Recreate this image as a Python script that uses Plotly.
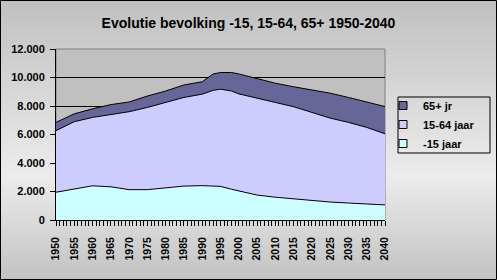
import plotly.graph_objects as go

# ---- data (thousands of inhabitants) ----
years = [1950, 1955, 1960, 1965, 1970, 1975, 1980, 1985, 1990, 1993, 1995,
         1998, 2000, 2005, 2010, 2015, 2020, 2025, 2030, 2035, 2040]
young = [1950, 2200, 2400, 2330, 2130, 2130, 2250, 2380, 2410, 2410, 2360,
         2160, 2050, 1750, 1600, 1480, 1370, 1260, 1190, 1120, 1060]
working = [4320, 4700, 4800, 5070, 5470, 5770, 6000, 6220, 6420, 6690, 6820,
           6890, 6800, 6780, 6650, 6470, 6180, 5890, 5660, 5380, 4990]
elderly = [580, 550, 600, 700, 680, 800, 800, 880, 870, 1150, 1170,
           1300, 1400, 1370, 1350, 1400, 1600, 1750, 1750, 1800, 1910]
series_names = ["-15 jaar", "15-64 jaar", "65+ jr"]
series_colors = ["#CCFFFF", "#CCCCFF", "#666699"]
label_years = list(range(1950, 2041, 5))
y_ticks = list(range(0, 12001, 2000))

FONT = "Arial, 'Liberation Sans', sans-serif"
W, H = 497, 280
L, R, T, B = 56, 112, 49, 60
PW, PH = W - L - R, H - T - B


def px_x(px):
    return (px - L) / PW


def px_y(py):
    return (H - B - py) / PH


fig = go.Figure()
for vals, name, col in zip([young, working, elderly], series_names, series_colors):
    fig.add_trace(go.Scatter(
        x=years, y=vals, name=name, stackgroup="one", mode="lines",
        line=dict(color="black", width=1), fillcolor=col,
        showlegend=False, legendgroup=name, hoverinfo="x+y+name"))

# legend entries (small square markers like the original)
for name, col in reversed(list(zip(series_names, series_colors))):
    fig.add_trace(go.Scatter(
        x=[None], y=[None], name=name, mode="markers", legendgroup=name,
        marker=dict(symbol="square", size=8, color=col,
                    line=dict(color="black", width=1))))

# ---- background gradient (chart area) ----
shapes = []
step = 2
for py in range(0, H, step):
    mid = py + step / 2
    if mid <= 175:
        g = 192 + (236 - 192) * mid / 175
    else:
        g = 236 - (236 - 194) * (mid - 175) / (H - 175)
    g = int(round(g))
    shapes.append(dict(type="rect", xref="paper", yref="paper", layer="below",
                       x0=px_x(0), x1=px_x(W), y0=px_y(py + step), y1=px_y(py),
                       fillcolor=f"rgb({g},{g},{g})", line=dict(width=0)))
# plot area
shapes.append(dict(type="rect", xref="paper", yref="paper", layer="below",
                   x0=0, x1=1, y0=0, y1=1, fillcolor="#C0C0C0",
                   line=dict(color="#808080", width=1)))
# outer border
shapes.append(dict(type="rect", xref="paper", yref="paper",
                   x0=px_x(0.5), x1=px_x(W - 0.5), y0=px_y(H - 0.5), y1=px_y(0.5),
                   line=dict(color="black", width=1)))
# legend box
shapes.append(dict(type="rect", xref="paper", yref="paper",
                   x0=px_x(398), x1=px_x(490), y0=px_y(153), y1=px_y(97),
                   line=dict(color="black", width=1)))

fig.update_layout(
    width=W, height=H,
    margin=dict(l=L, r=R, t=T, b=B, pad=0),
    paper_bgcolor="#C8C8C8", plot_bgcolor="rgba(0,0,0,0)",
    separators=",.",
    font=dict(family=FONT, size=11, color="black"),
    title=dict(text="<b>Evolutie bevolking -15, 15-64, 65+ 1950-2040</b>",
               x=0.5, xref="container", xanchor="center",
               y=1 - 23.5 / H, yref="container", yanchor="middle",
               font=dict(family=FONT, size=14, color="black")),
    shapes=shapes,
    showlegend=True,
    legend=dict(x=px_x(383), y=px_y(91), xanchor="left", yanchor="top",
                bgcolor="rgba(0,0,0,0)", borderwidth=0,
                font=dict(family=FONT, size=11, color="black", weight="bold"),
                itemwidth=30, tracegroupgap=0),
    xaxis=dict(range=[1950, 2040], tickmode="array", tickvals=label_years,
               ticktext=[str(y) for y in label_years], tickangle=-90,
               ticks="outside", ticklen=5, tickcolor="black", tickwidth=1,
               minor=dict(dtick=1, ticks="outside", ticklen=5,
                          tickcolor="black", tickwidth=1, showgrid=False),
               showline=True, linecolor="black", linewidth=1,
               showgrid=False, zeroline=False, ticklabelstandoff=7,
               tickfont=dict(family=FONT, size=10.5, color="black", weight="bold")),
    yaxis=dict(range=[0, 12000], tickmode="array", tickvals=y_ticks,
               tickformat=",d", ticks="outside", ticklen=5,
               tickcolor="black", tickwidth=1,
               showline=True, linecolor="black", linewidth=1,
               showgrid=True, gridcolor="black", gridwidth=1, zeroline=False,
               ticklabelstandoff=3,
               tickfont=dict(family=FONT, size=11, color="black", weight="bold")),
)

fig.write_html("out.html")
